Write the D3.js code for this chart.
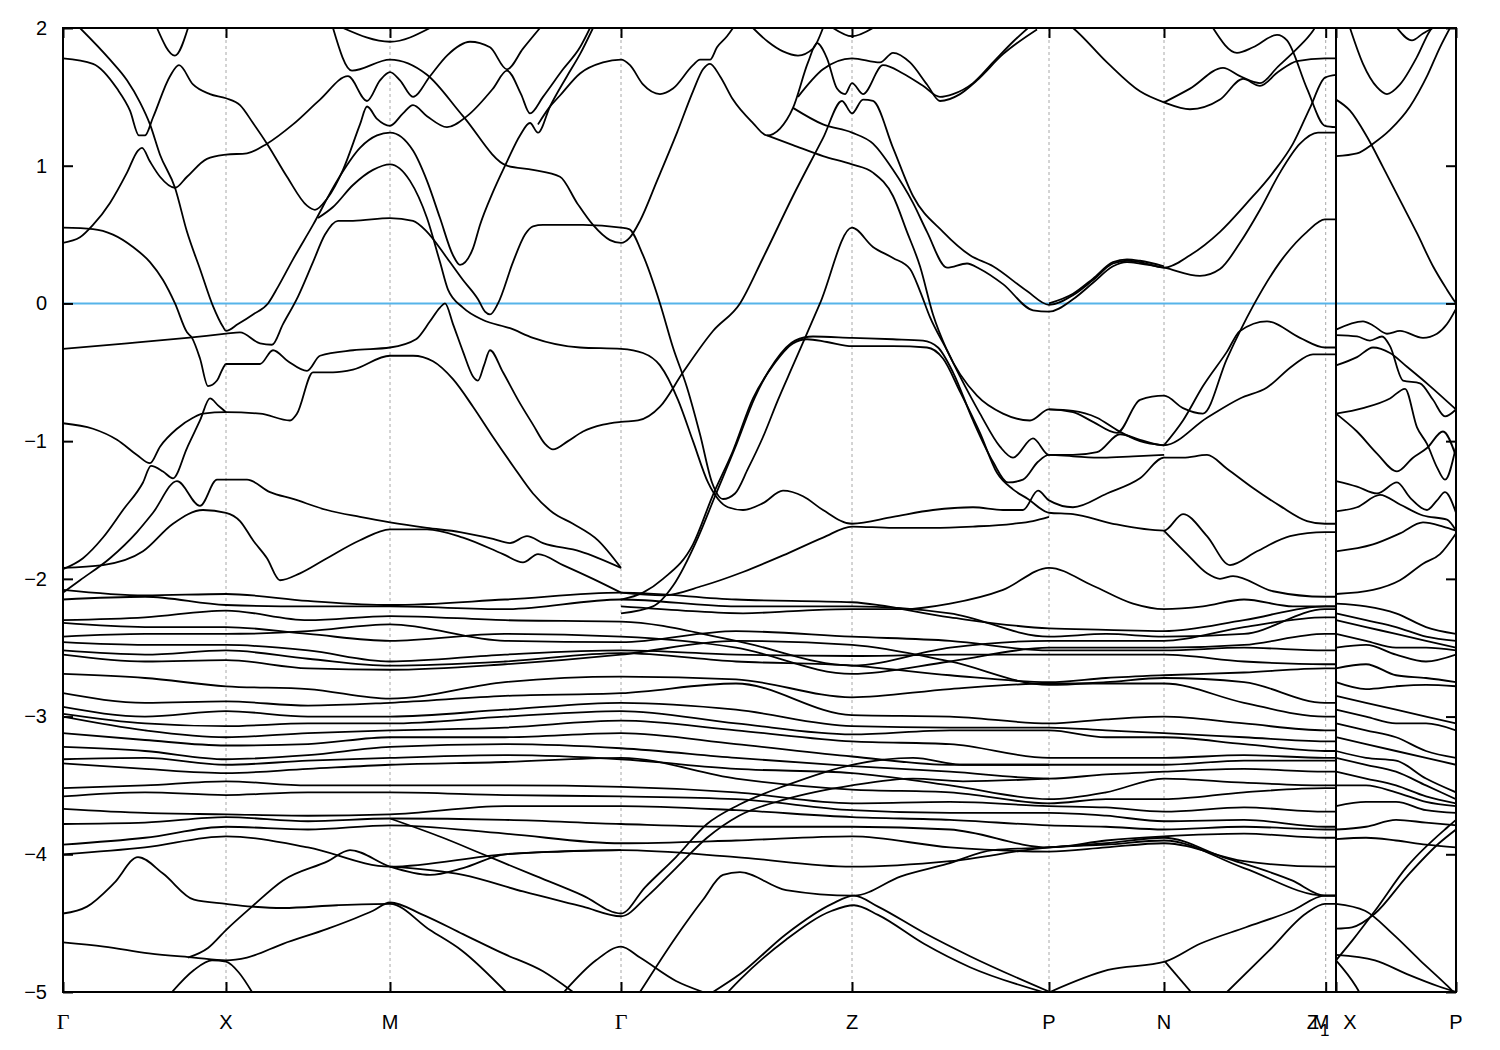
<!DOCTYPE html>
<html><head><meta charset="utf-8">
<script src="https://cdn.jsdelivr.net/npm/d3@7"></script>
<style>body{margin:0;background:#fff}svg{display:block}</style>
</head><body><svg id="c" width="1500" height="1050"></svg>
<script>
// ---- k-path (path length units) and tick data ----
const kTicks = [0,163,327,558,789,986,1101,1262.7,1273,1393];
const gridK = [163,327,558,789,986,1101,1262.7,1273];
const yTicks = [-5,-4,-3,-2,-1,0,1,2];
const xLabels = [
  {t:"Γ",k:0,serif:true},{t:"X",k:163},{t:"M",k:327},{t:"Γ",k:558,serif:true},
  {t:"Z",k:789},{t:"P",k:986},{t:"N",k:1101},{t:"Z",k:1255,sub:"1"},
  {t:"M",k:1258},{t:"X",k:1287},{t:"P",k:1393}
];
const breakK = 1273;

// ---- upper bands: [k, E(eV)] ----
const B1 = [[0,1.78],[30,1.74],[54,1.56],[67,1.4],[76,1.22],[82,1.22],[90,1.35],[107,1.65],[116,1.73],[130,1.59],[147,1.52],[163,1.49],[177,1.44],[190,1.31],[204,1.16],[224,0.92],[244,0.71],[252,0.68],[264,0.76],[280,0.97],[297,1.3],[304,1.43],[314,1.34],[327,1.29],[340,1.38],[350,1.44],[364,1.36],[384,1.28],[404,1.36],[430,1.56],[444,1.69],[458,1.52],[467,1.38],[480,1.5],[500,1.7],[517,1.86],[527,2.0]];
const B2 = [[17,2.0],[47,1.77],[64,1.62],[77,1.46],[87,1.3],[97,1.08],[112,0.84],[124,0.52],[137,0.25],[150,-0.02],[160,-0.17],[163,-0.2],[175,-0.15],[190,-0.08],[205,0.0],[215,0.12],[230,0.32],[250,0.57],[274,0.89],[297,1.13],[314,1.22],[327,1.24],[350,1.11],[364,0.89],[377,0.62],[390,0.35],[397,0.28],[410,0.4],[417,0.57],[430,0.81],[444,1.03],[457,1.22],[467,1.31],[475,1.24],[487,1.43],[504,1.65],[517,1.81],[530,2.0]];
const B3 = [[0,0.44],[17,0.48],[30,0.57],[47,0.73],[64,0.95],[75,1.11],[79,1.13],[87,1.03],[97,0.92],[112,0.84],[124,0.92],[144,1.05],[163,1.08],[184,1.09],[204,1.16],[230,1.3],[257,1.48],[285,1.65],[304,1.47],[317,1.62],[327,1.68],[337,1.62],[350,1.5],[367,1.65],[384,1.8],[407,1.9],[427,1.86],[444,1.7],[460,1.85],[477,2.0]];
const B4 = [[0,0.55],[30,0.54],[50,0.5],[70,0.41],[87,0.3],[100,0.17],[112,0.0],[124,-0.21],[129,-0.25],[137,-0.4],[145,-0.6],[154,-0.56],[160,-0.47],[163,-0.44],[197,-0.44],[210,-0.34],[225,-0.42],[244,-0.49],[257,-0.38],[290,-0.34],[327,-0.32],[353,-0.26],[367,-0.13],[377,-0.03],[382,0.0],[390,-0.15],[400,-0.35],[410,-0.53],[415,-0.56],[421,-0.45],[427,-0.34],[440,-0.5],[455,-0.7],[470,-0.88],[482,-1.02],[490,-1.06],[505,-1.0],[520,-0.93],[540,-0.88],[558,-0.86],[575,-0.85],[597,-0.75],[620,-0.5],[650,-0.2],[677,0.0],[700,0.33],[730,0.78],[760,1.2],[779,1.47],[789,1.38],[800,1.48],[810,1.47],[830,1.13],[850,0.78],[880,0.52],[907,0.35],[930,0.27],[964,0.09],[986,-0.01],[1010,0.06],[1030,0.17],[1050,0.29],[1064,0.31],[1077,0.3],[1101,0.26],[1127,0.35],[1157,0.52],[1184,0.73],[1210,0.95],[1230,1.16],[1247,1.42],[1262,1.64],[1273,1.66]];
const B5 = [[0,-0.33],[64,-0.29],[124,-0.25],[163,-0.22],[177,-0.21],[197,-0.29],[209,-0.3],[220,-0.15],[235,0.05],[250,0.3],[262,0.5],[275,0.6],[290,0.6],[327,0.62],[350,0.6],[364,0.52],[384,0.33],[400,0.17],[415,0.03],[422,-0.06],[427,-0.08],[435,0.0],[450,0.3],[462,0.5],[470,0.56],[480,0.57],[520,0.57],[558,0.55],[566,0.54],[580,0.35],[597,0.0],[610,-0.32],[624,-0.61],[637,-0.95],[649,-1.3],[660,-1.42],[672,-1.38],[685,-1.2],[700,-0.97],[715,-0.7],[730,-0.45],[757,0.0],[789,0.55],[810,0.41],[830,0.33],[847,0.25],[857,0.09],[867,-0.1],[884,-0.34],[897,-0.53],[917,-0.8],[937,-1.04],[950,-1.12],[970,-0.98],[986,-1.1],[1010,-1.1],[1034,-1.08],[1057,-0.95],[1077,-0.99],[1101,-1.03],[1144,-0.83],[1177,-0.69],[1204,-0.61],[1230,-0.45],[1250,-0.37],[1262,-0.37],[1273,-0.37]];
const Dome2 = [[255,0.62],[270,0.7],[290,0.86],[310,0.97],[327,1.01],[347,0.89],[364,0.62],[377,0.3],[385,0.1],[400,-0.03],[420,-0.12],[447,-0.18],[470,-0.25],[517,-0.32],[558,-0.33],[580,-0.36],[597,-0.45],[615,-0.7],[630,-1.0],[645,-1.3],[655,-1.42],[665,-1.48],[680,-1.5],[700,-1.45],[720,-1.36],[740,-1.4],[760,-1.5],[789,-1.6],[830,-1.55],[870,-1.5],[910,-1.48],[940,-1.5],[960,-1.5],[975,-1.36],[986,-1.43],[1010,-1.48],[1044,-1.38],[1077,-1.27],[1101,-1.12],[1120,-1.12],[1144,-1.1],[1164,-1.2],[1190,-1.34],[1217,-1.47],[1244,-1.58],[1262,-1.6],[1273,-1.6]];
const B6 = [[0,-0.87],[30,-0.91],[54,-0.99],[74,-1.1],[87,-1.16],[97,-1.04],[114,-0.91],[130,-0.83],[140,-0.8],[163,-0.79],[197,-0.8],[227,-0.85],[234,-0.8],[250,-0.5],[270,-0.5],[290,-0.48],[327,-0.38],[350,-0.38],[370,-0.42],[390,-0.55],[410,-0.75],[430,-0.97],[450,-1.18],[470,-1.38],[490,-1.52],[510,-1.6],[535,-1.72],[558,-1.92]];
const B7 = [[0,-1.93],[20,-1.85],[40,-1.7],[60,-1.5],[80,-1.3],[88,-1.18],[100,-1.22],[110,-1.27],[124,-1.05],[137,-0.85],[147,-0.69],[155,-0.74],[163,-0.79]];
const B8 = [[0,-2.1],[17,-2.01],[47,-1.85],[74,-1.66],[90,-1.52],[114,-1.29],[137,-1.47],[154,-1.28],[163,-1.28],[184,-1.28],[207,-1.37],[230,-1.42],[264,-1.5],[297,-1.55],[327,-1.59],[364,-1.63],[397,-1.66],[430,-1.71],[447,-1.74],[464,-1.69],[480,-1.74],[517,-1.8],[558,-1.92]];
const B9 = [[0,-1.92],[40,-1.9],[80,-1.8],[110,-1.6],[140,-1.5],[163,-1.52],[177,-1.58],[190,-1.72],[204,-1.85],[217,-2.01],[237,-1.96],[264,-1.85],[297,-1.72],[327,-1.64],[364,-1.64],[400,-1.7],[440,-1.82],[460,-1.88],[475,-1.82],[500,-1.9],[530,-2.0],[558,-2.1]];
const T2G2 = [[270,2.0],[289,1.69],[327,1.77],[364,1.66],[400,1.36],[444,1.0],[470,0.97],[497,0.92],[514,0.73],[530,0.57],[547,0.46],[558,0.44],[567,0.48],[577,0.6],[594,0.89],[614,1.24],[630,1.54],[640,1.7],[647,1.74],[657,1.65],[670,1.48],[690,1.31],[704,1.22],[717,1.27],[730,1.42],[745,1.75],[754,1.89],[764,1.78],[774,1.56],[782,1.52],[789,1.6],[800,1.52],[820,1.73],[840,1.67],[860,1.58],[877,1.5],[890,1.52],[910,1.6],[930,1.75],[950,1.9],[965,2.0]];
const G1 = [[475,1.3],[486,1.42],[497,1.51],[517,1.67],[540,1.75],[558,1.77],[567,1.73],[580,1.59],[597,1.52],[610,1.56],[630,1.73],[637,1.77],[647,1.77],[654,1.86],[664,1.94],[670,2.0]];
const TopA = [[94,2.0],[112,1.8],[125,2.0]];
const TopB = [[280,2.0],[327,1.9],[367,2.0]];
const Tz2 = [[690,2.0],[705,1.9],[720,1.83],[735,1.8],[750,1.85],[760,2.0]];
const ZT = [[770,2.0],[789,1.94],[810,2.0]];
const Z178 = [[735,1.5],[760,1.7],[789,1.78],[817,1.75],[830,1.82],[847,1.75],[864,1.59],[877,1.47],[897,1.52],[914,1.62],[940,1.81],[974,1.99]];
const Z121 = [[730,1.42],[760,1.3],[789,1.24],[810,1.16],[830,0.97],[850,0.73],[864,0.52],[884,0.26],[904,0.29],[917,0.25],[940,0.14],[970,-0.05],[986,-0.06],[1010,0.03],[1030,0.15],[1050,0.27],[1064,0.3],[1077,0.29],[1101,0.26],[1137,0.2],[1157,0.25],[1177,0.44],[1197,0.68],[1217,0.95],[1237,1.16],[1255,1.24],[1262,1.24],[1273,1.24]];
const Z100 = [[704,1.22],[730,1.15],[760,1.07],[789,1.01],[810,0.95],[830,0.78],[844,0.52],[857,0.27],[870,-0.08],[884,-0.34],[914,-0.67],[940,-0.8],[967,-0.85],[986,-0.77],[1010,-0.79],[1030,-0.86],[1054,-0.94],[1077,-0.7],[1101,-0.67],[1120,-0.76],[1140,-0.8],[1164,-0.4],[1190,-0.02],[1217,0.3],[1244,0.52],[1262,0.61],[1273,0.61]];
const ZA = [[558,-2.15],[580,-2.1],[600,-2.0],[630,-1.75],[650,-1.39],[670,-1.07],[690,-0.69],[710,-0.45],[730,-0.29],[744,-0.26],[764,-0.28],[789,-0.31],[830,-0.31],[864,-0.32],[880,-0.4],[897,-0.64],[917,-0.94],[934,-1.23],[950,-1.35],[965,-1.42],[986,-1.52],[1010,-1.53],[1050,-1.6],[1101,-1.65],[1120,-1.53],[1144,-1.69],[1167,-1.9],[1194,-1.8],[1227,-1.69],[1262,-1.66],[1273,-1.66]];
const ZB = [[558,-2.25],[590,-2.2],[610,-2.05],[635,-1.7],[652,-1.4],[672,-1.05],[692,-0.68],[712,-0.42],[732,-0.27],[750,-0.24],[789,-0.25],[830,-0.26],[860,-0.27],[875,-0.32],[890,-0.5],[910,-0.85],[930,-1.15],[945,-1.3],[960,-1.28],[975,-1.15],[986,-1.1],[1010,-1.11],[1040,-1.12],[1070,-1.11],[1101,-1.1]];
const Zm162 = [[558,-2.1],[600,-2.12],[640,-2.05],[680,-1.95],[720,-1.83],[760,-1.7],[789,-1.62],[830,-1.63],[870,-1.63],[910,-1.62],[950,-1.6],[970,-1.58],[986,-1.55]];
const PNtop = [[990,2.1],[1010,2.0],[1044,1.75],[1077,1.54],[1101,1.46],[1127,1.41],[1157,1.48],[1180,1.63],[1197,1.58],[1215,1.68],[1234,1.76],[1262,1.78],[1273,1.78]];
const NV2 = [[1101,1.46],[1127,1.56],[1160,1.71],[1177,1.65],[1197,1.6],[1215,1.72],[1234,1.85],[1250,1.98],[1256,2.05]];
const NT = [[1150,2.0],[1174,1.82],[1190,1.86],[1214,1.95],[1224,1.91],[1244,1.56],[1262,1.29],[1273,1.28]];
const Npk = [[1101,-1.03],[1120,-0.85],[1140,-0.6],[1164,-0.35],[1177,-0.2],[1204,-0.13],[1237,-0.25],[1262,-0.32],[1273,-0.32]];
const PN1 = [[986,-0.77],[1010,-0.78],[1034,-0.83],[1054,-0.92],[1077,-1.0],[1101,-1.03]];
const PN2 = [[986,0.0],[1010,0.07],[1030,0.18],[1050,0.3],[1064,0.32],[1077,0.31],[1101,0.27]];
const Nlow = [[1101,-1.65],[1124,-1.82],[1144,-1.96],[1157,-2.0],[1170,-1.98],[1210,-2.09],[1262,-2.13],[1273,-2.13]];
const Ppk = [[558,-2.2],[620,-2.23],[680,-2.25],[740,-2.23],[789,-2.22],[840,-2.22],[887,-2.18],[940,-2.08],[986,-1.92],[1030,-2.05],[1070,-2.18],[1101,-2.22],[1140,-2.2],[1181,-2.15],[1230,-2.2],[1273,-2.2]];

// ---- dense valence bands, sampled at these k ----
const denseK = [0,82,163,245,327,442,558,673,789,887,986,1043,1101,1181,1262,1273];
const D1 = [-2.08,-2.12,-2.11,-2.16,-2.19,-2.15,-2.1,-2.15,-2.17,-2.28,-2.36,-2.37,-2.38,-2.3,-2.2,-2.2];
const D2 = [-2.15,-2.13,-2.19,-2.2,-2.2,-2.22,-2.15,-2.2,-2.2,-2.25,-2.42,-2.4,-2.42,-2.4,-2.22,-2.22];
const D3 = [-2.3,-2.28,-2.23,-2.3,-2.27,-2.3,-2.31,-2.45,-2.63,-2.5,-2.45,-2.45,-2.45,-2.35,-2.28,-2.28];
const D4 = [-2.32,-2.35,-2.35,-2.4,-2.45,-2.4,-2.42,-2.5,-2.69,-2.6,-2.5,-2.5,-2.5,-2.48,-2.4,-2.4];
const D5 = [-2.42,-2.4,-2.4,-2.38,-2.33,-2.45,-2.46,-2.38,-2.42,-2.45,-2.52,-2.52,-2.52,-2.5,-2.52,-2.52];
const D6 = [-2.46,-2.48,-2.48,-2.52,-2.6,-2.55,-2.52,-2.55,-2.56,-2.55,-2.55,-2.55,-2.55,-2.6,-2.62,-2.62];
const D7 = [-2.52,-2.55,-2.52,-2.58,-2.63,-2.6,-2.54,-2.6,-2.63,-2.7,-2.75,-2.72,-2.7,-2.68,-2.65,-2.65];
const D8 = [-2.55,-2.6,-2.59,-2.65,-2.66,-2.62,-2.55,-2.45,-2.48,-2.6,-2.77,-2.75,-2.72,-2.75,-2.9,-2.9];
const D9 = [-2.69,-2.72,-2.78,-2.8,-2.87,-2.75,-2.71,-2.73,-2.86,-2.8,-2.76,-2.76,-2.76,-2.9,-3.0,-3.0];
const D10 = [-2.83,-2.9,-2.89,-2.92,-2.9,-2.85,-2.83,-2.76,-2.99,-3.0,-3.05,-3.02,-3.0,-3.05,-3.1,-3.1];
const D11 = [-2.93,-3.0,-2.96,-3.0,-3.0,-2.95,-2.9,-2.95,-3.07,-3.08,-3.08,-3.1,-3.12,-3.15,-3.18,-3.18];
const D12 = [-2.98,-3.05,-3.07,-3.05,-3.05,-3.0,-2.96,-3.05,-3.13,-3.1,-3.1,-3.15,-3.15,-3.2,-3.25,-3.25];
const D13 = [-3.0,-3.1,-3.15,-3.12,-3.1,-3.08,-3.03,-3.1,-3.18,-3.2,-3.3,-3.3,-3.3,-3.28,-3.3,-3.3];
const D14 = [-3.12,-3.17,-3.21,-3.2,-3.15,-3.15,-3.12,-3.2,-3.29,-3.35,-3.35,-3.35,-3.35,-3.32,-3.32,-3.32];
const D15 = [-3.22,-3.25,-3.31,-3.28,-3.22,-3.2,-3.23,-3.3,-3.36,-3.4,-3.45,-3.42,-3.4,-3.38,-3.4,-3.4];
const D16 = [-3.31,-3.3,-3.35,-3.32,-3.3,-3.28,-3.31,-3.38,-3.41,-3.5,-3.6,-3.55,-3.45,-3.48,-3.5,-3.5];
const D17 = [-3.34,-3.38,-3.41,-3.38,-3.35,-3.33,-3.3,-3.45,-3.53,-3.55,-3.63,-3.6,-3.6,-3.55,-3.52,-3.52];
const D18 = [-3.52,-3.5,-3.47,-3.5,-3.5,-3.5,-3.51,-3.55,-3.63,-3.62,-3.65,-3.66,-3.69,-3.66,-3.69,-3.69];
const D19 = [-3.58,-3.55,-3.57,-3.55,-3.55,-3.57,-3.58,-3.6,-3.68,-3.7,-3.7,-3.72,-3.76,-3.75,-3.8,-3.8];
const D20 = [-3.67,-3.7,-3.71,-3.72,-3.71,-3.65,-3.65,-3.68,-3.73,-3.75,-3.79,-3.8,-3.82,-3.8,-3.82,-3.82];
const D21 = [-3.78,-3.77,-3.73,-3.76,-3.74,-3.75,-3.78,-3.8,-3.8,-3.82,-3.95,-3.9,-3.87,-3.85,-3.88,-3.88];
const D22 = [-3.93,-3.88,-3.8,-3.82,-3.79,-3.85,-3.92,-3.9,-3.87,-3.95,-3.98,-3.95,-3.92,-4.05,-4.09,-4.09];
const D23 = [-4.0,-3.95,-3.87,-3.95,-4.09,-4.0,-3.97,-4.02,-4.09,-4.05,-3.95,-3.93,-3.9,-4.1,-4.3,-4.3];

// ---- deep bands ----
const DP1 = [[0,-4.43],[24,-4.38],[51,-4.21],[75,-4.02],[100,-4.14],[131,-4.33],[163,-4.36],[189,-4.38],[220,-4.39],[274,-4.37],[327,-4.36],[367,-4.55],[399,-4.7],[443,-5.0]];
const DP2 = [[0,-4.64],[41,-4.67],[86,-4.72],[131,-4.75],[163,-4.77],[184,-4.75],[220,-4.65],[265,-4.54],[310,-4.41],[327,-4.35],[360,-4.44],[400,-4.58],[440,-4.72],[480,-4.85],[510,-5.0]];
const DP3 = [[501,-5.0],[533,-4.77],[558,-4.67],[577,-4.75],[613,-4.92],[640,-5.0]];
const DP4 = [[109,-5.0],[131,-4.84],[149,-4.77],[163,-4.78],[176,-4.86],[189,-5.0]];
const DP5 = [[327,-3.74],[380,-3.88],[420,-4.0],[470,-4.15],[520,-4.3],[558,-4.43],[582,-4.24],[613,-4.02],[644,-3.78],[676,-3.64],[723,-3.5],[789,-3.35],[850,-3.3],[900,-3.35],[986,-3.35]];
const DP6 = [[327,-4.09],[400,-4.15],[460,-4.27],[520,-4.38],[558,-4.45],[585,-4.3],[613,-4.1],[644,-3.88],[676,-3.72],[723,-3.6],[789,-3.5],[850,-3.45],[900,-3.47],[986,-3.45]];
const DP8 = [[577,-5.0],[613,-4.6],[640,-4.33],[660,-4.15],[677,-4.13],[723,-4.26],[791,-4.3],[838,-4.16],[884,-4.07],[930,-3.97],[986,-3.95],[1043,-3.92],[1101,-3.88],[1160,-4.02],[1229,-4.19],[1262,-4.3],[1273,-4.3]];
const DP9 = [[650,-5.0],[677,-4.87],[723,-4.58],[769,-4.36],[791,-4.3],[815,-4.38],[861,-4.57],[907,-4.74],[987,-5.0]];
const DP10 = [[665,-5.0],[677,-4.91],[723,-4.62],[769,-4.41],[791,-4.37],[815,-4.44],[861,-4.65],[907,-4.82],[980,-5.0]];
const DP11 = [[987,-5.0],[1045,-4.84],[1102,-4.78],[1137,-4.65],[1183,-4.53],[1229,-4.41],[1262,-4.3],[1273,-4.3]];
const DP12 = [[1102,-4.78],[1128,-5.0]];
const DP13 = [[1164,-5.0],[1206,-4.7],[1243,-4.43],[1262,-4.36],[1273,-4.36]];
const DP15 = [[125,-4.75],[145,-4.68],[163,-4.55],[189,-4.38],[220,-4.19],[265,-4.05],[287,-3.97],[327,-4.09],[367,-4.15],[400,-4.1],[442,-4.0],[500,-3.98],[558,-3.97]];

// ---- right segment M–X–P ----
const RA = [[1273,1.48],[1287,1.4],[1304,1.21],[1320,0.99],[1337,0.75],[1354,0.51],[1370,0.27],[1384,0.1],[1393,0.0]];
const RB = [[1273,1.07],[1294,1.09],[1310,1.16],[1327,1.26],[1347,1.43],[1364,1.65],[1377,1.86],[1387,2.0]];
const RC = [[1287,2.0],[1300,1.74],[1314,1.57],[1324,1.52],[1337,1.59],[1354,1.79],[1367,1.98],[1369,2.0]];
const RD = [[1334,2.0],[1349,1.91],[1360,1.96],[1370,2.0]];
const RE = [[1273,-0.19],[1300,-0.13],[1310,-0.16],[1324,-0.22],[1337,-0.2],[1360,-0.25],[1374,-0.22],[1384,-0.15],[1393,-0.04]];
const RF = [[1273,-0.23],[1294,-0.24],[1307,-0.27],[1319,-0.24],[1327,-0.31],[1340,-0.56],[1357,-0.58],[1370,-0.7],[1382,-0.82],[1393,-0.77]];
const RG = [[1273,-0.45],[1294,-0.39],[1310,-0.32],[1327,-0.36],[1344,-0.46],[1367,-0.6],[1393,-0.77]];
const RH = [[1273,-0.8],[1300,-0.76],[1327,-0.69],[1342,-0.62],[1354,-0.9],[1364,-1.02],[1374,-1.19],[1382,-1.28],[1393,-1.04]];
const RI = [[1273,-0.8],[1294,-0.93],[1314,-1.09],[1334,-1.22],[1350,-1.12],[1364,-1.05],[1380,-0.93],[1393,-1.11]];
const RJ = [[1273,-1.29],[1294,-1.33],[1314,-1.38],[1334,-1.3],[1347,-1.41],[1364,-1.5],[1374,-1.43],[1382,-1.37],[1393,-1.52]];
const RK = [[1273,-1.51],[1294,-1.48],[1317,-1.39],[1337,-1.46],[1360,-1.54],[1384,-1.57],[1393,-1.65]];
const RL = [[1273,-1.8],[1310,-1.75],[1337,-1.67],[1360,-1.59],[1380,-1.62],[1393,-1.65]];
const RM = [[1273,-2.11],[1310,-2.08],[1337,-2.01],[1360,-1.89],[1377,-1.82],[1393,-1.67]];
const RP1 = [[1273,-4.54],[1289,-4.53],[1312,-4.43],[1344,-4.16],[1376,-3.92],[1393,-3.82]];
const RP2 = [[1273,-4.73],[1312,-4.77],[1344,-4.87],[1376,-4.96],[1393,-5.0]];
const RP3 = [[1273,-4.36],[1302,-4.41],[1330,-4.58],[1357,-4.77],[1385,-4.96],[1393,-5.02]];
const RP4 = [[1273,-4.77],[1293,-4.96],[1300,-5.05]];
const RP5 = [[1273,-4.77],[1290,-4.62],[1312,-4.41],[1344,-4.09],[1385,-3.8],[1393,-3.75]];
const denseRK = [1273,1303,1333,1363,1393];
const DR = [
  [-2.18,-2.2,-2.25,-2.35,-2.4],[-2.25,-2.3,-2.35,-2.42,-2.45],[-2.3,-2.35,-2.4,-2.45,-2.5],
  [-2.4,-2.45,-2.5,-2.5,-2.52],[-2.5,-2.48,-2.55,-2.6,-2.55],[-2.65,-2.62,-2.7,-2.72,-2.75],
  [-2.75,-2.8,-2.78,-2.77,-2.78],[-2.85,-2.9,-2.95,-3.0,-3.05],[-2.95,-3.0,-3.05,-3.05,-3.1],
  [-3.05,-3.1,-3.15,-3.25,-3.3],[-3.15,-3.2,-3.25,-3.3,-3.35],[-3.25,-3.3,-3.32,-3.45,-3.55],
  [-3.3,-3.35,-3.4,-3.5,-3.6],[-3.4,-3.45,-3.5,-3.58,-3.63],[-3.5,-3.5,-3.55,-3.62,-3.65],
  [-3.65,-3.62,-3.62,-3.68,-3.7],[-3.82,-3.8,-3.75,-3.77,-3.79],[-3.89,-3.88,-3.9,-3.93,-3.95]
];

// ---- assemble ----
const pointBands = [B1,B2,B3,B4,B5,Dome2,B6,B7,B8,B9,T2G2,G1,TopA,TopB,Tz2,ZT,Z178,Z121,Z100,ZA,ZB,Zm162,PNtop,NV2,NT,Npk,PN1,PN2,Nlow,Ppk,
  DP1,DP2,DP3,DP4,DP5,DP6,DP8,DP9,DP10,DP11,DP12,DP13,DP15,
  RA,RB,RC,RD,RE,RF,RG,RH,RI,RJ,RK,RL,RM,RP1,RP2,RP3,RP4,RP5];
const denseRows = [D1,D2,D3,D4,D5,D6,D7,D8,D9,D10,D11,D12,D13,D14,D15,D16,D17,D18,D19,D20,D21,D22,D23];
const allBands = pointBands
  .concat(denseRows.map(r => r.map((e,i) => [denseK[i], e])))
  .concat(DR.map(r => r.map((e,i) => [denseRK[i], e])));

const W = 1500, H = 1050;
const m = {l:63, r:1456, t:28, b:992};
const x = d3.scaleLinear().domain([0,1393]).range([m.l, m.r]);
const y = d3.scaleLinear().domain([-5,2]).range([m.b, m.t]);
const svg = d3.select("#c");
svg.append("rect").attr("width",W).attr("height",H).attr("fill","#fff");
svg.append("defs").append("clipPath").attr("id","clip").append("rect")
  .attr("x",m.l).attr("y",m.t).attr("width",m.r-m.l).attr("height",m.b-m.t);

// grid (dashed) at symmetry points
svg.append("g").selectAll("line").data(gridK).join("line")
  .attr("x1",d=>x(d)).attr("x2",d=>x(d)).attr("y1",m.t).attr("y2",m.b)
  .attr("stroke","#a8a8a8").attr("stroke-width",1).attr("stroke-dasharray","3,3");

// Fermi level
svg.append("line").attr("x1",m.l).attr("x2",m.r).attr("y1",y(0)).attr("y2",y(0))
  .attr("stroke","#56b4e9").attr("stroke-width",2);

// bands
const line = d3.line().x(d=>x(d[0])).y(d=>y(d[1])).curve(d3.curveMonotoneX);
svg.append("g").attr("clip-path","url(#clip)").selectAll("path").data(allBands).join("path")
  .attr("d",line).attr("fill","none").attr("stroke","#000").attr("stroke-width",1.8)
  .attr("stroke-linejoin","round");

// discontinuity line
svg.append("line").attr("x1",x(breakK)).attr("x2",x(breakK)).attr("y1",m.t).attr("y2",m.b)
  .attr("stroke","#000").attr("stroke-width",2);

// axes (inward ticks)
const font = "'Liberation Sans', Arial, sans-serif";
function styleAxis(g){ g.select(".domain").remove(); g.selectAll(".tick line").attr("stroke","#000").attr("stroke-width",2);
  g.selectAll("text").attr("font-family",font).attr("font-size",20).attr("fill","#000"); }
svg.append("g").attr("transform",`translate(${m.l},0)`)
  .call(d3.axisLeft(y).tickValues(yTicks).tickSize(-10).tickPadding(16).tickFormat(d3.format("d"))).call(styleAxis);
svg.append("g").attr("transform",`translate(${m.r},0)`)
  .call(d3.axisRight(y).tickValues(yTicks).tickSize(-10).tickFormat("")).call(styleAxis);
svg.append("g").attr("transform",`translate(0,${m.b})`)
  .call(d3.axisBottom(x).tickValues(kTicks).tickSize(-10).tickFormat("")).call(styleAxis);
svg.append("g").attr("transform",`translate(0,${m.t})`)
  .call(d3.axisTop(x).tickValues(kTicks).tickSize(-10).tickFormat("")).call(styleAxis);

// frame
svg.append("rect").attr("x",m.l).attr("y",m.t).attr("width",m.r-m.l).attr("height",m.b-m.t)
  .attr("fill","none").attr("stroke","#000").attr("stroke-width",2);

// x labels
const lab = svg.append("g").selectAll("text").data(xLabels).join("text")
  .attr("x",d=>x(d.k)).attr("y",1029).attr("text-anchor","middle")
  .attr("font-family",d=>d.serif ? "'Liberation Serif','Times New Roman',serif" : font)
  .attr("font-size",d=>d.serif?22:20).attr("fill","#000");
lab.each(function(d){
  const t = d3.select(this);
  t.append("tspan").text(d.t);
  if(d.sub){ t.append("tspan").attr("dy",7).attr("dx",1).attr("font-size",17).text(d.sub); }
});
</script></body></html>
